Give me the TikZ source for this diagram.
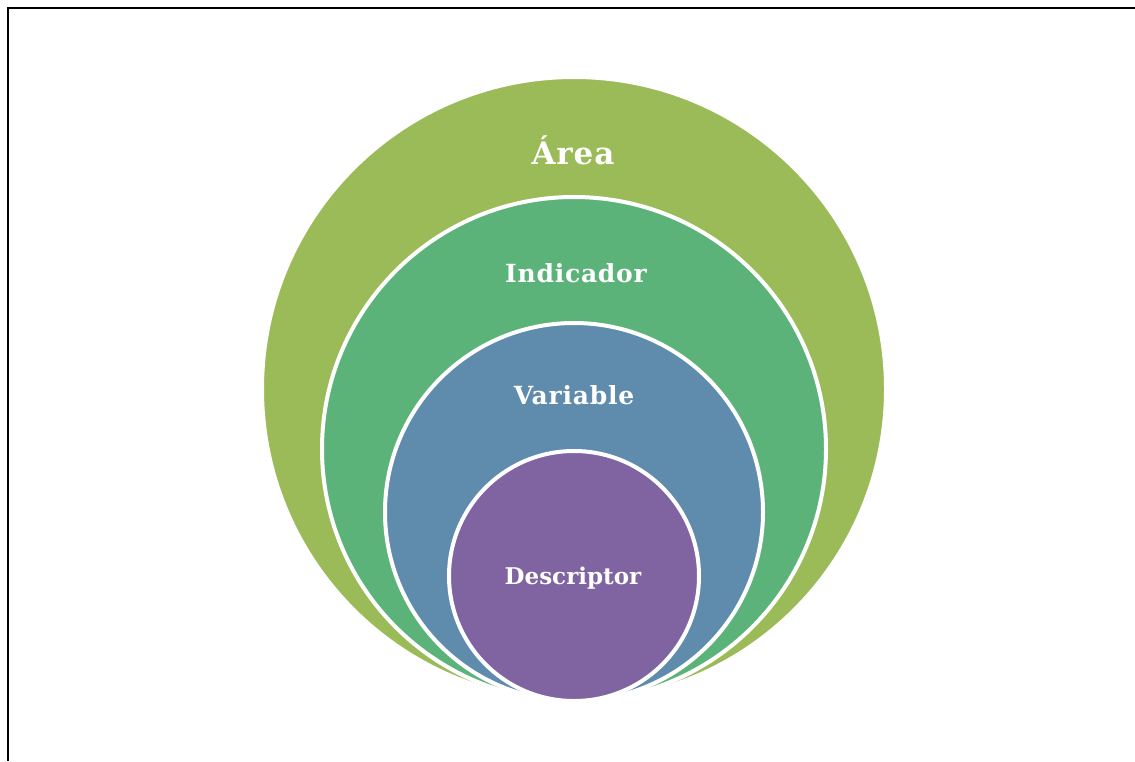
\documentclass[tikz,border=0pt]{standalone}
\usepackage{fontspec}
\setmainfont{DejaVu Serif}
\definecolor{areagreen}{RGB}{155,187,89}
\definecolor{indgreen}{RGB}{92,179,122}
\definecolor{varblue}{RGB}{95,139,172}
\definecolor{descpurple}{RGB}{128,100,162}
\tikzset{
  ring/.style={circle,draw=white,line width=4pt,inner sep=0pt},
  lbl/.style={text=white,font=\bfseries\fontsize{23}{23}\selectfont},
  spaced/.style={font=\bfseries\fontsize{25}{25}\selectfont\addfontfeature{LetterSpace=3}}
}
\begin{document}
\begin{tikzpicture}[x=1pt,y=-1pt]
    \useasboundingbox (0,0) rectangle (1135,761);
    
    \coordinate (TL) at (8,8);
    \coordinate (TR) at (1135,8);
    \coordinate (BL) at (8,761);
    \draw[line width=2pt] (BL) -- (TL) -- (TR);
    
    \node[ring,fill=areagreen,minimum size=624pt] (A) at (574,389) {};
    \node[ring,fill=indgreen,minimum size=504pt] (I) at (574,449) {};
    \node[ring,fill=varblue,minimum size=378pt] (V) at (574,512) {};
    \node[ring,fill=descpurple,minimum size=250pt] (D) at (574,576) {};
    
    \node[lbl,font=\bfseries\fontsize{31}{31}\selectfont\addfontfeature{LetterSpace=3}] (At) at (573,150) {Área};
    \node[lbl,spaced] (It) at (576,273) {Indicador};
    \node[lbl,spaced] (Vt) at (574,395) {Variable};
    \node[lbl] (Dt) at (573,578) {Descriptor};
    
\end{tikzpicture}
\end{document}
